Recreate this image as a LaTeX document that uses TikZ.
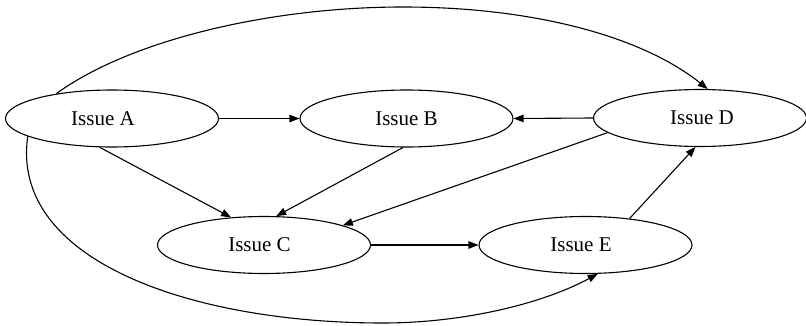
\documentclass[tikz,border=0pt]{standalone}
\usepackage{fontspec}
\setmainfont{Liberation Serif}
\usetikzlibrary{shapes.geometric,arrows.meta}
\begin{document}
\begin{tikzpicture}[x=1pt,y=-1pt,
  issue/.style={draw,ellipse,line width=1.1pt,inner sep=0pt,
    minimum width=213pt,minimum height=57pt,
    font=\fontsize{21}{25}\selectfont},
  link/.style={line width=1.1pt,-{Triangle[length=10pt,width=7.5pt]}}]
\useasboundingbox (0,0) rectangle (806,326);
% nodes (a leading \hspace* nudges a label sideways inside its ellipse)
\node[issue] (A) at (112,118.5) {\hspace*{-18pt}Issue A};
\node[issue] (B) at (406.5,118.5) {Issue B};
\node[issue] (D) at (700,118) {\hspace*{4pt}Issue D};
\node[issue] (C) at (264,245) {\hspace*{-9pt}Issue C};
\node[issue] (E) at (585.5,245) {\hspace*{-9pt}Issue E};
% straight links
\draw[link] (A.east) -- (B.west);
\draw[link] (D.west) -- (B.east);
\draw[link] (A.-113) -- (C.140);
\draw[link] (B.-97) -- (C.67);
\draw[link] (D.189) -- (C.14);
\draw[link] (C.east) -- (E.west);
\draw[link] (E.31) -- (D.-99);
% long arcs
\draw[link] (A.156) .. controls (130,40) and (270,7) .. (403,7)
  .. controls (530,7) and (640,35) .. (D.75);
\draw[link] (A.192) .. controls (10,260) and (190,323) .. (383,323)
  .. controls (460,323) and (540,305) .. (E.-67);
\end{tikzpicture}
\end{document}
